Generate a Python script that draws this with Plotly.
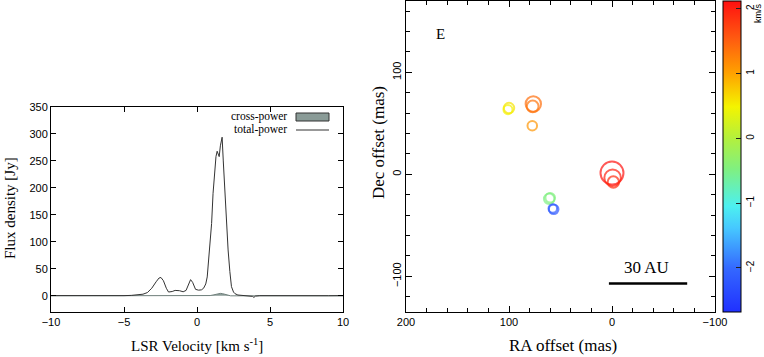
import numpy as np
import plotly.graph_objects as go

W, H = 764, 357
SERIF = "Liberation Serif"
SANS = "Liberation Sans"

# spectrum (left panel)
velocity = [-10, -9, -8, -7.5, -7, -6, -5, -4.5, -4, -3.7, -3.4, -3.1, -2.8, -2.6, -2.47,
            -2.3, -2.1, -1.95, -1.7, -1.5, -1.2, -0.95, -0.75, -0.55, -0.44, -0.3, -0.1,
            0.1, 0.3, 0.45, 0.6, 0.7, 0.8, 0.9, 1.0, 1.1, 1.22, 1.3, 1.38, 1.45, 1.52, 1.6,
            1.72, 1.8, 1.9, 2.0, 2.13, 2.25, 2.36, 2.5, 2.6, 2.8, 3.1, 3.5, 3.8, 3.9, 4.0,
            4.3, 5, 6, 7, 8, 9, 10]
total_power = [0.5, 0.3, 0.4, -0.5, 0.2, 0.5, 0.3, 0.8, 1.5, 3, 6, 14, 26, 33, 34,
               28, 14, 7, 8, 10, 9.5, 7.5, 10, 24, 30, 25, 12,
               10.5, 11, 14, 22, 35, 70, 110, 134, 190, 241, 258, 268, 262, 258, 278,
               294, 250, 196, 140, 85, 45, 17, 7, 4, 1.5, 0.8, 0.5, -1, -3, -0.5,
               0.3, 0.5, 0.2, 0.3, 0.5, 0.2, 0.4]
cross_vel = [-10, 0.6, 0.9, 1.1, 1.3, 1.45, 1.6, 1.75, 1.9, 2.1, 2.3, 10]
cross_power = [0, 0, 0.5, 1.5, 3, 4, 4.5, 4, 3, 1.5, 0, 0]

# maser spots (right panel)
ra_off = [100, 101, 76.4, 77, 77.4, 61, 60, 56.6, 57.5, 0, -0.6, -1.3]
dec_off = [65, 63.5, 69, 66.7, 47.7, -24, -23, -34.3, -33.5, 1.3, -3.3, -7.5]
spot_vlsr = [0.6, 0.5, 1.4, 1.35, 1.1, -0.5, -0.45, -2.2, -2.15, 2.1, 2.0, 1.9]
spot_flux = [60, 45, 130, 75, 50, 60, 50, 50, 40, 290, 150, 70]

jet = [[0.0, "#2030ff"], [0.14, "#3468ff"], [0.27, "#46c8ff"], [0.34, "#4cf0f0"],
       [0.46, "#80f080"], [0.56, "#b4f03c"], [0.66, "#f4f400"], [0.77, "#ffa000"],
       [0.88, "#ff5a10"], [1.0, "#ff1010"]]
CMIN, CMAX = -2.68, 2.12
CB_X0, CB_X1, CB_BOT, CB_TOP = 723, 741, 312, 1


def px(x):
    return x / W


def py(y):
    return 1 - y / H


fig = go.Figure()

fig.add_trace(go.Scatter(
    x=cross_vel, y=cross_power, mode="lines", fill="tozeroy",
    line=dict(color="#6f7f7b", width=1), fillcolor="#8a9b97",
    xaxis="x", yaxis="y", showlegend=False,
))
fig.add_trace(go.Scatter(
    x=velocity, y=total_power, mode="lines",
    line=dict(color="#333333", width=1),
    xaxis="x", yaxis="y", showlegend=False,
))

sizes = 1.35 * np.sqrt(spot_flux)
fig.add_trace(go.Scatter(
    x=ra_off, y=dec_off, mode="markers", xaxis="x2", yaxis="y2", showlegend=False,
    marker=dict(
        symbol="circle-open", size=sizes, color=spot_vlsr, colorscale=jet,
        cmin=CMIN, cmax=CMAX, line=dict(width=2),
        colorbar=dict(
            x=px(CB_X0), xanchor="left", y=py(CB_BOT), yanchor="bottom",
            lenmode="pixels", len=CB_BOT - CB_TOP, thickness=CB_X1 - CB_X0,
            xpad=0, ypad=0, outlinecolor="black", outlinewidth=1,
            ticks="inside", ticklen=5, tickcolor="#222",
            tickvals=[-2, -1, 0, 1, 2], ticktext=["\u22122", "\u22121", "0", "1", "2"],
            tickangle=-90, tickfont=dict(family=SANS, size=10, color="black"),
        ),
    ),
))

common = dict(showline=True, mirror="ticks", linecolor="black", linewidth=1,
              ticks="inside", tickcolor="black", showgrid=False, zeroline=False,
              automargin=False, tickfont=dict(family=SANS, size=11, color="black"))

fig.update_layout(
    width=W, height=H, margin=dict(l=0, r=0, t=0, b=0, autoexpand=False),
    plot_bgcolor="white", paper_bgcolor="white",
    xaxis=dict(domain=[px(51), px(343)], range=[-10, 10], dtick=5, ticklen=5,
               anchor="y", **common),
    yaxis=dict(domain=[py(312), py(107)], range=[-30, 350], dtick=50, ticklen=5,
               anchor="x", **common),
    xaxis2=dict(domain=[px(406), px(715)], range=[200, -100], tickvals=[200, 100, 0, -100],
                ticklen=6, minor=dict(dtick=20, ticks="inside", ticklen=4, tickcolor="black"),
                anchor="y2", **common),
    yaxis2=dict(domain=[py(312), py(1)], range=[-135, 170], tickvals=[-100, 0, 100],
                tickangle=-90, ticklen=6,
                minor=dict(dtick=20, ticks="inside", ticklen=4, tickcolor="black"),
                anchor="x2", **common),
)

# small colour-bar ticks every third of a km/s, both sides
for k in range(-8, 7):
    v = k / 3
    yy = CB_BOT - (v - CMIN) / (CMAX - CMIN) * (CB_BOT - CB_TOP)
    for xa, xb in ((CB_X0, CB_X0 + 3), (CB_X1 - 3, CB_X1)):
        fig.add_shape(type="line", xref="paper", yref="paper", x0=px(xa), x1=px(xb),
                      y0=py(yy), y1=py(yy), line=dict(color="#222", width=1))

# scale bar
fig.add_shape(type="line", xref="x2", yref="y2", x0=3, x1=-73, y0=-107, y1=-107,
              line=dict(color="black", width=2.5))

# legend drawn by hand (text left of key, as in the original)
fig.add_shape(type="rect", xref="paper", yref="paper", x0=px(296), x1=px(329),
              y0=py(121), y1=py(113), fillcolor="#8a9b97", line=dict(color="#333", width=1))
fig.add_shape(type="line", xref="paper", yref="paper", x0=px(296), x1=px(329),
              y0=py(130), y1=py(130), line=dict(color="#333", width=1))

notes = [
    ("cross-power", px(289), py(117), "right", 0, 11.5),
    ("total-power", px(289), py(129), "right", 0, 11.5),
    ("Flux density [Jy]", px(10), py(208), "center", -90, 15),
    ("LSR Velocity [km s<sup>-1</sup>]", px(197), py(345), "center", 0, 15),
    ("RA offset (mas)", px(563), py(345), "center", 0, 17),
    ("Dec offset (mas)", px(378), py(143), "center", -90, 17),
    ("E", px(440), py(34), "center", 0, 15),
    ("30 AU", px(646), py(267), "center", 0, 17),
]
for text, x, y, anchor, ang, size in notes:
    fig.add_annotation(text=text, x=x, y=y, xref="paper", yref="paper",
                       xanchor=anchor, yanchor="middle", showarrow=False, textangle=ang,
                       font=dict(family=SERIF, size=size, color="black"))

fig.add_annotation(text="km/s", x=px(758), y=py(14), xref="paper", yref="paper",
                   showarrow=False, textangle=-90, xanchor="center", yanchor="middle",
                   font=dict(family=SANS, size=9, color="black"))

# drop the default 8px page margin so the figure sits at the window's corner
fig.write_html("out.html", config={"displayModeBar": False},
               post_script="document.body.style.margin='0';")
